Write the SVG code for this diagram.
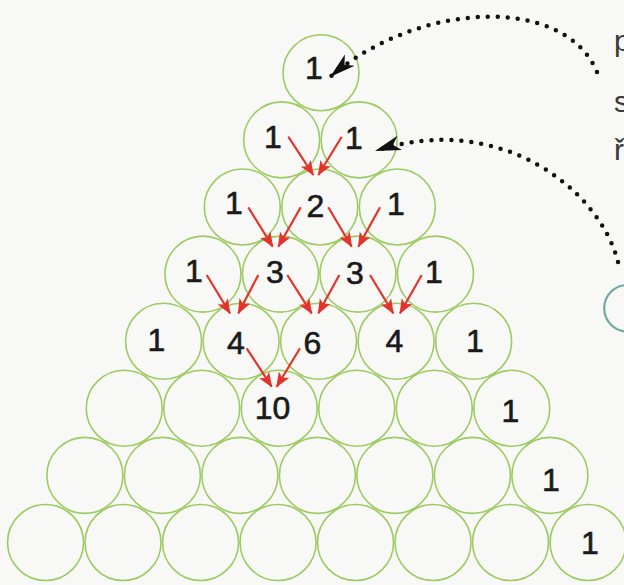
<svg xmlns="http://www.w3.org/2000/svg" width="624" height="585" viewBox="0 0 624 585">
<style>
.c{fill:none;stroke:#9dcb62;stroke-width:1.6}
.n{font-family:"Liberation Sans","Open Sans",sans-serif;font-size:32px;fill:#1a1a1a;stroke:#1a1a1a;stroke-width:0.6;text-anchor:middle}
.r{stroke:#e3342b;stroke-width:2.2;fill:none;marker-end:url(#ra)}
.d{stroke:#111;stroke-width:4.5;fill:none;stroke-dasharray:0 10;stroke-linecap:round;marker-end:url(#ba)}
.t{font-family:"Liberation Sans","Open Sans",sans-serif;font-size:30px;fill:#3a3a3a}
</style>
<defs>
<marker id="ra" markerUnits="userSpaceOnUse" markerWidth="16" markerHeight="13" refX="14" refY="6.5" orient="auto" viewBox="0 0 16 13">
<path d="M0,0.5 L15,6.5 L0,12.5 L3.5,6.5 z" fill="#e3342b"/>
</marker>
<marker id="ba" markerUnits="userSpaceOnUse" markerWidth="28" markerHeight="16" refX="26" refY="8" orient="auto" viewBox="0 0 28 16">
<path d="M0,0.5 L26,8 L0,15.5 L7,8 z" fill="#111"/>
</marker>
</defs>
<rect width="624" height="585" fill="#f8f8f7"/>

<g id="n0_0"><circle class="c" cx="321" cy="72.8" r="38"/><text class="n" x="314" y="79">1</text></g>

<g id="n1_0"><circle class="c" cx="281.65" cy="139.9" r="38"/><text class="n" x="273" y="147.5">1</text></g>
<g id="n1_1"><circle class="c" cx="359.15" cy="139.9" r="38"/><text class="n" x="354" y="149">1</text></g>

<g id="n2_0"><circle class="c" cx="242.3" cy="207" r="38"/><text class="n" x="234" y="214">1</text></g>
<g id="n2_1"><circle class="c" cx="319.8" cy="207" r="38"/><text class="n" x="315.5" y="216.5">2</text></g>
<g id="n2_2"><circle class="c" cx="397.3" cy="207" r="38"/><text class="n" x="396" y="215">1</text></g>

<g id="n3_0"><circle class="c" cx="202.95" cy="274.1" r="38"/><text class="n" x="194" y="282">1</text></g>
<g id="n3_1"><circle class="c" cx="280.45" cy="274.1" r="38"/><text class="n" x="275" y="283">3</text></g>
<g id="n3_2"><circle class="c" cx="357.95" cy="274.1" r="38"/><text class="n" x="355" y="283.5">3</text></g>
<g id="n3_3"><circle class="c" cx="435.45" cy="274.1" r="38"/><text class="n" x="434" y="282.5">1</text></g>

<g id="n4_0"><circle class="c" cx="163.6" cy="341.2" r="38"/><text class="n" x="156.5" y="351">1</text></g>
<g id="n4_1"><circle class="c" cx="241.1" cy="341.2" r="38"/><text class="n" x="236" y="353.5">4</text></g>
<g id="n4_2"><circle class="c" cx="318.6" cy="341.2" r="38"/><text class="n" x="312.5" y="353.5">6</text></g>
<g id="n4_3"><circle class="c" cx="396.1" cy="341.2" r="38"/><text class="n" x="394.5" y="351.5">4</text></g>
<g id="n4_4"><circle class="c" cx="473.6" cy="341.2" r="38"/><text class="n" x="475" y="351.5">1</text></g>

<g id="n5_0"><circle class="c" cx="124.25" cy="408.3" r="38"/></g>
<g id="n5_1"><circle class="c" cx="201.75" cy="408.3" r="38"/></g>
<g id="n5_2"><circle class="c" cx="279.25" cy="408.3" r="38"/><text class="n" x="272.5" y="419">10</text></g>
<g id="n5_3"><circle class="c" cx="356.75" cy="408.3" r="38"/></g>
<g id="n5_4"><circle class="c" cx="434.25" cy="408.3" r="38"/></g>
<g id="n5_5"><circle class="c" cx="511.75" cy="408.3" r="38"/><text class="n" x="510.5" y="422">1</text></g>

<g id="n6_0"><circle class="c" cx="84.9" cy="475.4" r="38"/></g>
<g id="n6_1"><circle class="c" cx="162.4" cy="475.4" r="38"/></g>
<g id="n6_2"><circle class="c" cx="239.9" cy="475.4" r="38"/></g>
<g id="n6_3"><circle class="c" cx="317.4" cy="475.4" r="38"/></g>
<g id="n6_4"><circle class="c" cx="394.9" cy="475.4" r="38"/></g>
<g id="n6_5"><circle class="c" cx="472.4" cy="475.4" r="38"/></g>
<g id="n6_6"><circle class="c" cx="549.9" cy="475.4" r="38"/><text class="n" x="551" y="490.5">1</text></g>

<g id="n7_0"><circle class="c" cx="45.55" cy="542.5" r="38"/></g>
<g id="n7_1"><circle class="c" cx="123.05" cy="542.5" r="38"/></g>
<g id="n7_2"><circle class="c" cx="200.55" cy="542.5" r="38"/></g>
<g id="n7_3"><circle class="c" cx="278.05" cy="542.5" r="38"/></g>
<g id="n7_4"><circle class="c" cx="355.55" cy="542.5" r="38"/></g>
<g id="n7_5"><circle class="c" cx="433.05" cy="542.5" r="38"/></g>
<g id="n7_6"><circle class="c" cx="510.55" cy="542.5" r="38"/></g>
<g id="n7_7"><circle class="c" cx="588.05" cy="542.5" r="38"/><text class="n" x="590" y="554">1</text></g>

<g id="side">
<circle cx="627.5" cy="308.3" r="23.3" fill="none" stroke="#6fa8a0" stroke-width="2.2"/>
<text class="t" x="614" y="51">p</text>
<text class="t" x="614" y="112">s</text>
<text class="t" x="614" y="160">ř</text>
</g>

<g id="connectors">
<path class="r" d="M288.3,136.7 L313.3,175"/>
<path class="r" d="M341.7,136.7 L318.3,175"/>
<path class="r" d="M248.3,207.3 L272.7,246.7"/>
<path class="r" d="M300.7,207.3 L278.3,246.7"/>
<path class="r" d="M328.3,207.3 L351.7,246.7"/>
<path class="r" d="M380,207.3 L358.3,246.7"/>
<path class="r" d="M206.7,275 L230,313.3"/>
<path class="r" d="M258.3,275 L238.3,313.3"/>
<path class="r" d="M287.3,275 L311.7,313.3"/>
<path class="r" d="M339.3,275 L318.3,313.3"/>
<path class="r" d="M370,275 L393.3,313.3"/>
<path class="r" d="M421.7,275 L400,313.3"/>
<path class="r" d="M246.7,348.3 L271.7,386.7"/>
<path class="r" d="M300,348.3 L276.7,386.7"/>
<path class="d" d="M597,72 C565,-5 420,0 330,77"/>
<path class="d" d="M618,262 C600,190 500,110 375,151"/>
</g>
</svg>
